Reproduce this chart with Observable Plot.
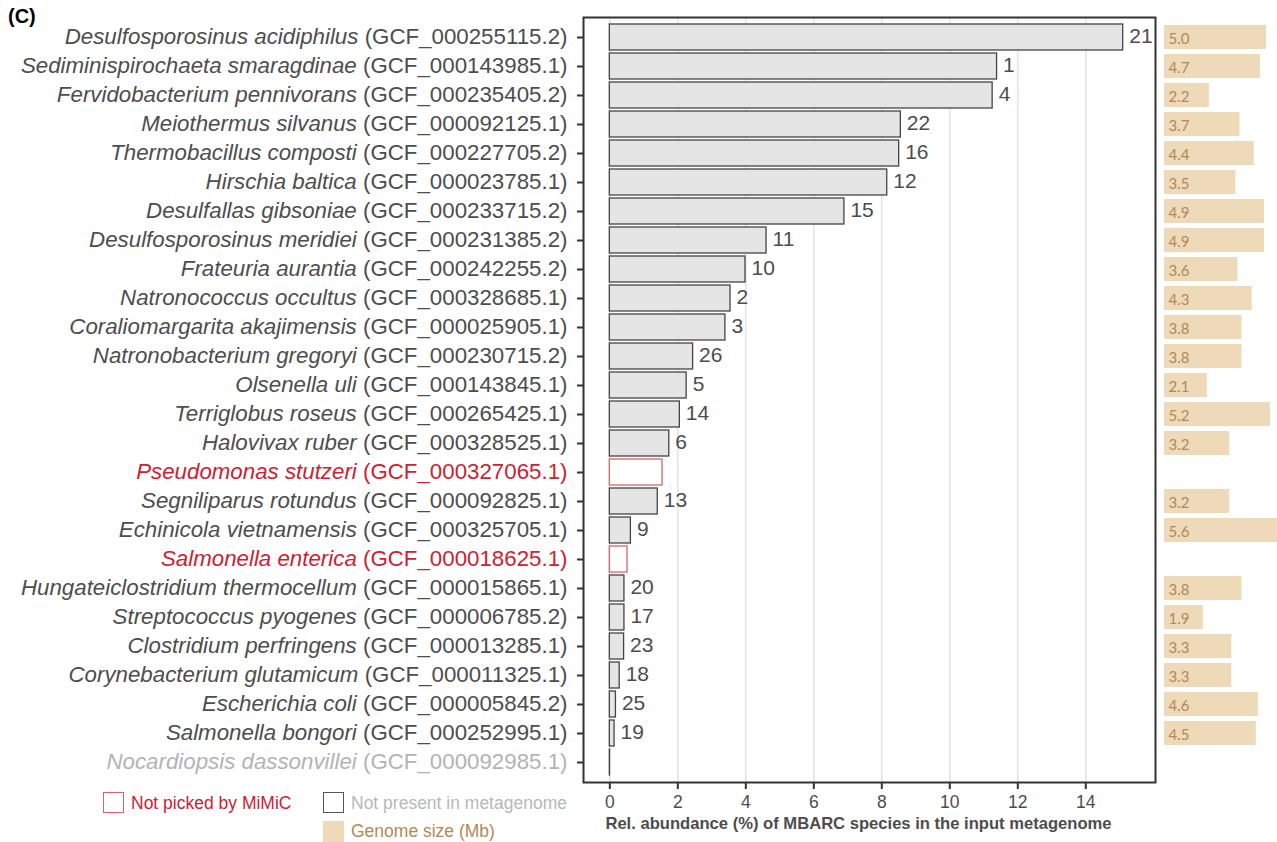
<!DOCTYPE html>
<html>
<head>
<meta charset="utf-8">
<script src="https://cdn.jsdelivr.net/npm/d3@7"></script>
<script src="https://cdn.jsdelivr.net/npm/@observablehq/plot@0.6"></script>
<style>
  body { margin: 0; background: #fff; font-family: "Liberation Sans", Arial, sans-serif; }
  #fig { position: relative; width: 1277px; height: 842px; overflow: hidden; }
  #fig svg { position: absolute; top: 0; overflow: visible; }
  .tag { position: absolute; left: 8px; top: 5px; font-weight: bold; font-size: 20px; color: #000; }
  .leg { position: absolute; font-size: 17.5px; white-space: nowrap; line-height: 20px; }
  .sw { position: absolute; width: 21px; height: 21px; box-sizing: border-box; }
</style>
</head>
<body>
<div id="fig">
  <div class="tag">(C)</div>
  <div class="sw" style="left:103px;top:792px;border:1.5px solid #d9646a;background:#fff"></div>
  <div class="leg" style="left:131px;top:793px;color:#cc2233">Not picked by MiMiC</div>
  <div class="sw" style="left:323px;top:792px;border:1.5px solid #555;background:#fff"></div>
  <div class="leg" style="left:351px;top:793px;color:#b8b8b8">Not present in metagenome</div>
  <div class="sw" style="left:323px;top:821px;background:#eed9b9"></div>
  <div class="leg" style="left:351px;top:821px;color:#b08a55">Genome size (Mb)</div>
</div>
<script>
const species = ["Desulfosporosinus acidiphilus","Sediminispirochaeta smaragdinae","Fervidobacterium pennivorans","Meiothermus silvanus","Thermobacillus composti","Hirschia baltica","Desulfallas gibsoniae","Desulfosporosinus meridiei","Frateuria aurantia","Natronococcus occultus","Coraliomargarita akajimensis","Natronobacterium gregoryi","Olsenella uli","Terriglobus roseus","Halovivax ruber","Pseudomonas stutzeri","Segniliparus rotundus","Echinicola vietnamensis","Salmonella enterica","Hungateiclostridium thermocellum","Streptococcus pyogenes","Clostridium perfringens","Corynebacterium glutamicum","Escherichia coli","Salmonella bongori","Nocardiopsis dassonvillei"];
const accessions = ["GCF_000255115.2","GCF_000143985.1","GCF_000235405.2","GCF_000092125.1","GCF_000227705.2","GCF_000023785.1","GCF_000233715.2","GCF_000231385.2","GCF_000242255.2","GCF_000328685.1","GCF_000025905.1","GCF_000230715.2","GCF_000143845.1","GCF_000265425.1","GCF_000328525.1","GCF_000327065.1","GCF_000092825.1","GCF_000325705.1","GCF_000018625.1","GCF_000015865.1","GCF_000006785.2","GCF_000013285.1","GCF_000011325.1","GCF_000005845.2","GCF_000252995.1","GCF_000092985.1"];
const abundance = [15.10,11.39,11.26,8.56,8.51,8.16,6.90,4.61,3.99,3.55,3.40,2.45,2.26,2.06,1.75,1.55,1.41,0.62,0.52,0.43,0.43,0.42,0.29,0.18,0.14,0.005];
const rankLabel = ["21","1","4","22","16","12","15","11","10","2","3","26","5","14","6","","13","9","","20","17","23","18","25","19",""];
const genomeSize = [5.0,4.7,2.2,3.7,4.4,3.5,4.9,4.9,3.6,4.3,3.8,3.8,2.1,5.2,3.2,null,3.2,5.6,null,3.8,1.9,3.3,3.3,4.6,4.5,null];
const status = ["picked","picked","picked","picked","picked","picked","picked","picked","picked","picked","picked","picked","picked","picked","picked","notpicked","picked","picked","notpicked","picked","picked","picked","picked","picked","picked","absent"];
const xTicks = [0,2,4,6,8,10,12,14];
const xTitle = "Rel. abundance (%) of MBARC species in the input metagenome";

const rows = species.map((s, i) => ({
  key: `${s} (${accessions[i]})`,
  species: s, acc: accessions[i], value: abundance[i], rank: rankLabel[i],
  genome: genomeSize[i], status: status[i]
}));
const keys = rows.map(d => d.key);

const labelColor = s => s === "notpicked" ? "#cc2233" : s === "absent" ? "#b3b3b3" : "#4d4d4d";
const barFill = s => s === "notpicked" ? "#ffffff" : "#e5e5e5";
const barStroke = s => s === "notpicked" ? "#d9646a" : "#444444";

const FONT = "Liberation Sans, Arial, sans-serif";
const yOpts = {domain: keys, paddingInner: 0.1, paddingOuter: 0.166, axis: null};

const main = Plot.plot({
  width: 1160, height: 842,
  marginLeft: 583, marginRight: 5, marginTop: 17, marginBottom: 60,
  style: {fontFamily: FONT, background: "transparent"},
  x: {domain: [-0.774, 16.05], axis: null},
  y: yOpts,
  marks: [
    Plot.gridX(xTicks, {stroke: "#e8e8e8", strokeOpacity: 1, strokeWidth: 2}),
    Plot.barX(rows, {x: "value", y: "key", fill: d => barFill(d.status), stroke: d => barStroke(d.status), strokeWidth: 1.3}),
    Plot.text(rows, {x: "value", y: "key", text: "rank", textAnchor: "start", dx: 6, dy: -1, fontSize: 21, fill: "#4d4d4d"}),
    Plot.text(rows, {y: "key", text: "key", frameAnchor: "left", textAnchor: "end", dx: -16, dy: -1, fontSize: 22.3, fill: d => labelColor(d.status)}),
    Plot.axisY({tickSize: 6, tickFormat: () => "", stroke: "#333", strokeWidth: 2, label: null}),
    Plot.axisX(xTicks, {tickSize: 7, tickPadding: 6, fontSize: 17.5, color: "#4d4d4d", stroke: "#333", strokeWidth: 2, label: null}),
    Plot.text([xTitle], {frameAnchor: "bottom", dy: 46, dx: -11, fontSize: 16.6, fontWeight: "bold", fill: "#4d4d4d"}),
    Plot.frame({stroke: "#333", strokeWidth: 2})
  ]
});
main.style.left = "0px";

// italic species name + upright accession in the row labels
const ns = "http://www.w3.org/2000/svg";
main.querySelectorAll("text").forEach(t => {
  if (t.querySelector("tspan")) return;
  const full = t.textContent;
  const k = full.indexOf(" (GCF_");
  if (k < 0) return;
  t.textContent = "";
  const a = document.createElementNS(ns, "tspan");
  a.setAttribute("font-style", "italic");
  a.textContent = full.slice(0, k);
  const b = document.createElementNS(ns, "tspan");
  b.textContent = full.slice(k);
  t.appendChild(a); t.appendChild(b);
});

const genomeRows = rows.filter(d => d.genome != null);
const side = Plot.plot({
  width: 117, height: 842,
  marginLeft: 4, marginRight: 0, marginTop: 17, marginBottom: 60,
  style: {fontFamily: "Lato, 'Open Sans', sans-serif", background: "transparent"},
  x: {domain: [0, 5.54], axis: null},
  y: yOpts,
  marks: [
    Plot.barX(genomeRows, {x: "genome", y: "key", fill: "#eed9b9", insetTop: 1, insetBottom: 1}),
    Plot.text(genomeRows, {x: 0, y: "key", text: d => d.genome.toFixed(1), textAnchor: "start", dx: 4, dy: 2, fontSize: 15, fill: "#b08a55"})
  ]
});
side.style.left = "1160px";

const fig = document.getElementById("fig");
fig.appendChild(main);
fig.appendChild(side);
</script>
</body>
</html>
